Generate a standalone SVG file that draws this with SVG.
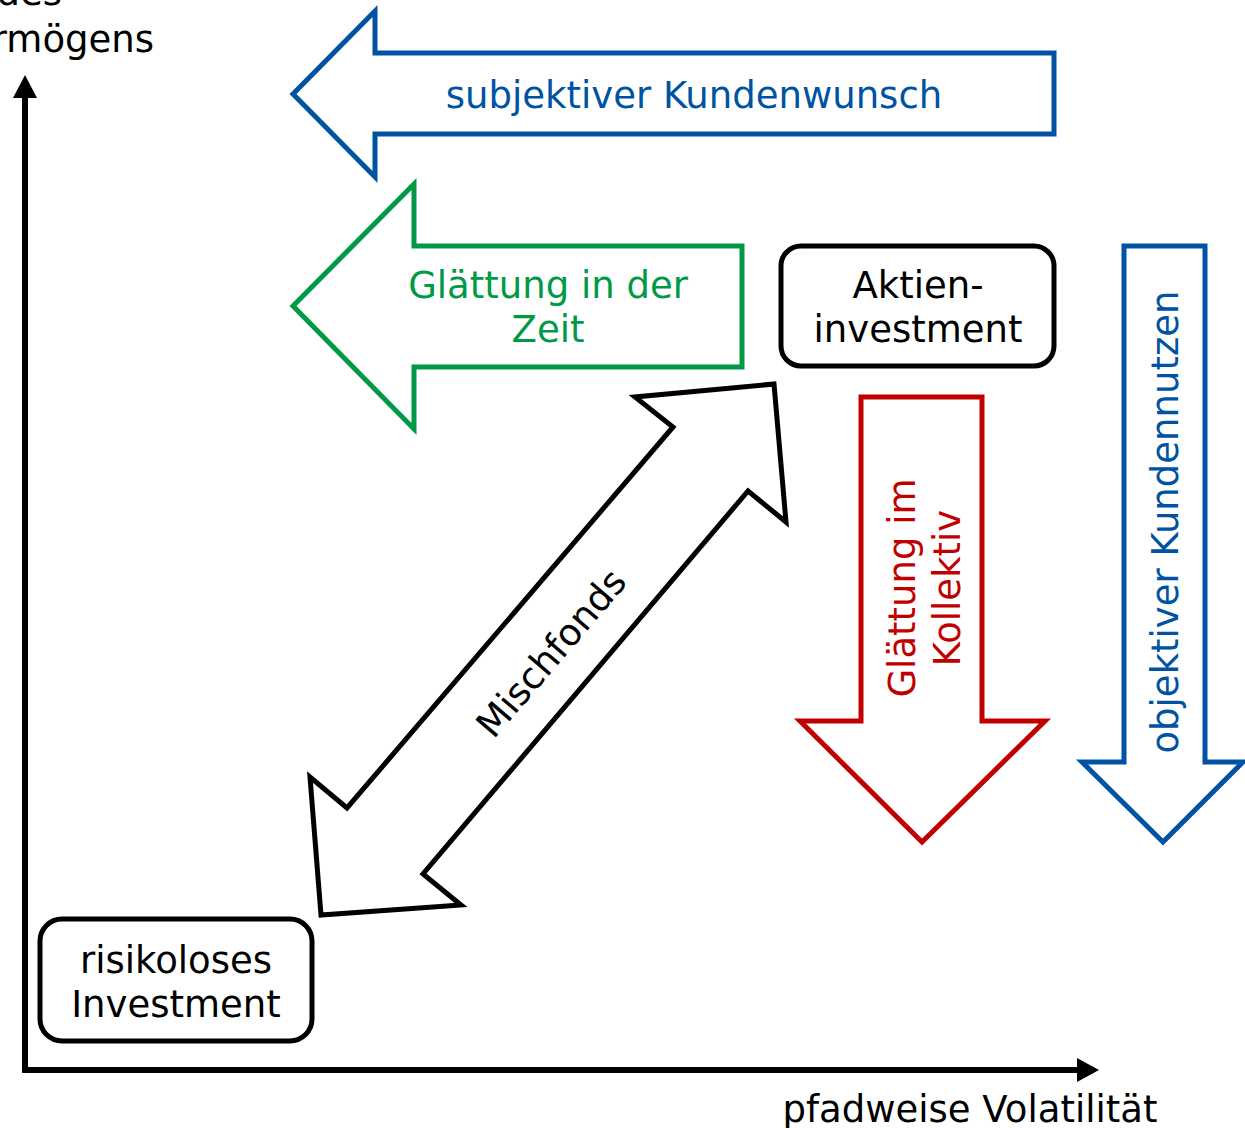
<svg xmlns="http://www.w3.org/2000/svg" width="1245" height="1128" viewBox="0 0 1245 1128">
  <style>
    text { font-family: "DejaVu Sans", Verdana, sans-serif; font-size: 37px; }
    .blk { fill: #000000; }
    .blue { fill: #0052A2; }
    .green { fill: #009A46; }
    .red { fill: #C00000; }
    .box { fill: #ffffff; stroke: #000000; stroke-width: 5; }
    .arrow { fill: #ffffff; stroke-width: 5; stroke-linejoin: miter; stroke-miterlimit: 10; }
    .mid { text-anchor: middle; }
  </style>
  <rect x="0" y="0" width="1245" height="1128" fill="#ffffff"/>

  <g id="axes">
    <path d="M25,96 V1070 H1078" fill="none" stroke="#000" stroke-width="6" stroke-linejoin="miter"/>
    <polygon points="25,75 13,98 37,98" fill="#000"/>
    <polygon points="1099,1070 1077,1058 1077,1082" fill="#000"/>
    <text class="blk" x="62" y="5" text-anchor="end">des</text>
    <text class="blk" x="154" y="52" text-anchor="end">rmögens</text>
    <text class="blk mid" x="970" y="1122">pfadweise Volatilität</text>
  </g>

  <g id="subjektiver-kundenwunsch">
    <polygon class="arrow" stroke="#0052A2" points="293,94 375,11 375,53 1054,53 1054,134 375,134 375,177"/>
    <text class="blue mid" x="694" y="108">subjektiver Kundenwunsch</text>
  </g>

  <g id="glaettung-zeit">
    <polygon class="arrow" stroke="#009A46" points="293,306 414,184 414,246 742,246 742,367 414,367 414,429"/>
    <text class="green mid" x="548" y="298">Glättung in der</text>
    <text class="green mid" x="548" y="342">Zeit</text>
  </g>

  <g id="aktieninvestment">
    <rect class="box" x="781" y="246" width="273" height="120" rx="20" ry="20"/>
    <text class="blk mid" x="918" y="298">Aktien-</text>
    <text class="blk mid" x="918" y="342">investment</text>
  </g>

  <g id="risikoloses-investment">
    <rect class="box" x="40" y="919" width="272" height="122" rx="22" ry="22"/>
    <text class="blk mid" x="176" y="973">risikoloses</text>
    <text class="blk mid" x="176" y="1017">Investment</text>
  </g>

  <g id="mischfonds">
    <polygon class="arrow" stroke="#000000" points="774,384 786,522 748,491 423,874 461,905 321,915 310,777 347,808 673,427 635,397"/>
    <text class="blk mid" transform="translate(551,653) rotate(-49.4)" x="0" y="13">Mischfonds</text>
  </g>

  <g id="glaettung-kollektiv">
    <polygon class="arrow" stroke="#C00000" points="861,397 982,397 982,721 1045,721 922,842 800,721 861,721"/>
    <text class="red mid" transform="translate(915,588) rotate(-90)" x="0" y="0">Glättung im</text>
    <text class="red mid" transform="translate(960,588) rotate(-90)" x="0" y="0">Kollektiv</text>
  </g>

  <g id="objektiver-kundennutzen">
    <polygon class="arrow" stroke="#0052A2" points="1124,246 1205,246 1205,762 1243,762 1163,842 1082,762 1124,762"/>
    <text class="blue mid" transform="translate(1178,522) rotate(-90)" x="0" y="0">objektiver Kundennutzen</text>
  </g>

  <g id="connectors"></g>
</svg>
